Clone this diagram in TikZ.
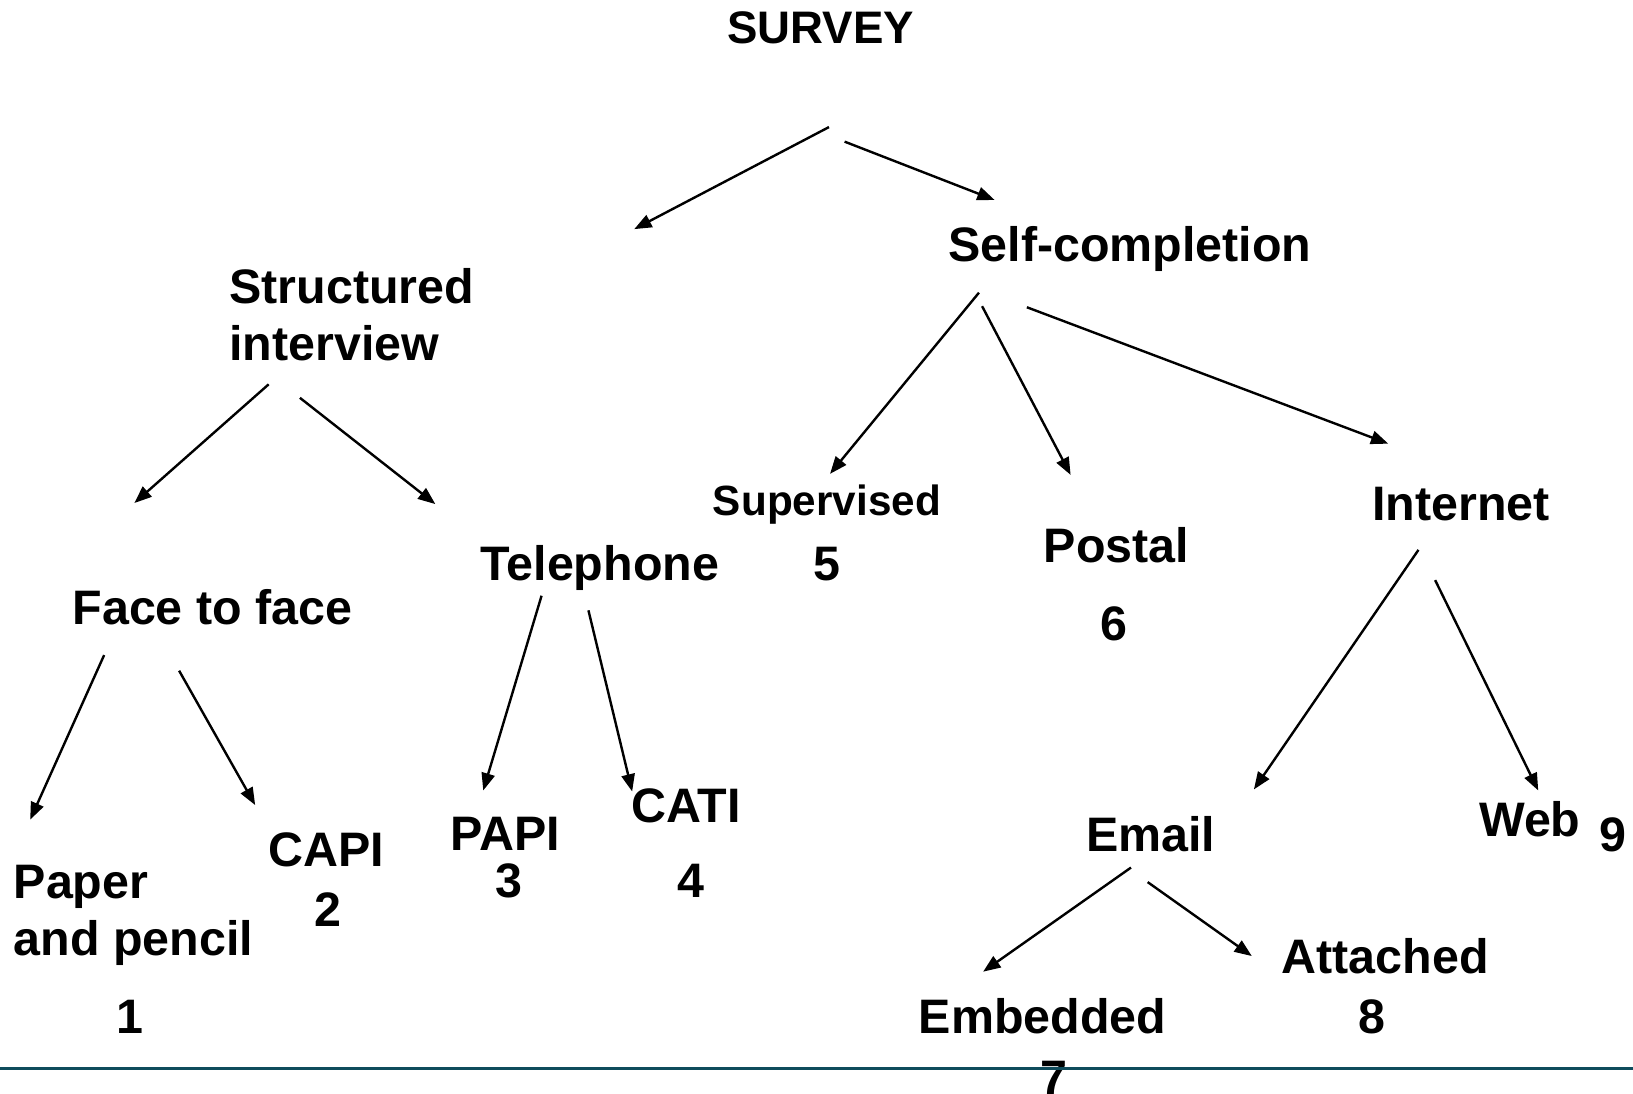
\documentclass[tikz,border=0pt]{standalone}
\usepackage{fontspec}
\setmainfont{Liberation Sans}
\usepackage{tikz}
\usetikzlibrary{arrows.meta}
\definecolor{rulecol}{HTML}{0F4C5C}
\tikzset{
  srvlbl/.style = {font=\bfseries\fontsize{36.3}{42.5}\selectfont,
                   inner sep=0pt, anchor=base},
  srvsml/.style = {srvlbl, font=\bfseries\fontsize{31.7}{38}\selectfont},
  srvtop/.style = {srvlbl, font=\bfseries\fontsize{34.2}{40}\selectfont},
  srvarr/.style = {draw=black, line width=1.8pt,
                   -{Triangle[length=13pt, width=10pt]}},
}

\begin{document}
\begin{tikzpicture}[x=0.7811pt, y=-0.7811pt]
  \useasboundingbox (0,0) rectangle (1568,1050);

  % labels
  \node[srvtop] (survey) at (788,42) {SURVEY};
  \node[srvlbl] (selfc) at (1085,251) {Self-completion};
  \node[srvlbl, anchor=base west, align=left] (struct) at (220,346) {Structured\\interview};
  \node[srvlbl] (face) at (204,600) {Face to face};
  \node[srvlbl] (tel) at (576,557) {Telephone};
  \node[srvsml] (superv) at (794,495) {Supervised};
  \node[srvlbl] (n5) at (794,557) {5};
  \node[srvlbl] (postal) at (1072,540) {Postal};
  \node[srvlbl] (n6) at (1070,615) {6};
  \node[srvlbl] (inet) at (1403,500) {Internet};
  \node[srvlbl, anchor=base west, align=left] (paper) at (13,917) {Paper\\and pencil};
  \node[srvlbl] (n1) at (125,992) {1};
  \node[srvlbl] (capi) at (313,832) {CAPI};
  \node[srvlbl] (n2) at (315,890) {2};
  \node[srvlbl] (papi) at (485,817) {PAPI};
  \node[srvlbl] (n3) at (489,862) {3};
  \node[srvlbl] (cati) at (659,790) {CATI};
  \node[srvlbl] (n4) at (663,862) {4};
  \node[srvlbl] (email) at (1105,818) {Email};
  \node[srvlbl] (web) at (1469,803) {Web};
  \node[srvlbl] (n9) at (1549,818) {9};
  \node[srvlbl] (embed) at (1001,992) {Embedded};
  \node[srvlbl] (n7) at (1012,1051) {7};
  \node[srvlbl] (attach) at (1330,935) {Attached};
  \node[srvlbl] (n8) at (1317,992) {8};

  % arrow ends
  \coordinate (sv-l) at (796,122);  \coordinate (struct-in) at (609,220);
  \coordinate (sv-r) at (811,136);  \coordinate (selfc-in) at (955,192);
  \coordinate (st-l) at (258,369);  \coordinate (face-in) at (129,483);
  \coordinate (st-r) at (288,382);  \coordinate (tel-in) at (418,484);
  \coordinate (sc-l) at (940,281);  \coordinate (superv-in) at (797,455);
  \coordinate (sc-m) at (943,294);  \coordinate (postal-in) at (1028,456);
  \coordinate (sc-r) at (986,295);  \coordinate (inet-in) at (1333,426);
  \coordinate (fa-l) at (100,629);  \coordinate (paper-in) at (29,787);
  \coordinate (fa-r) at (172,644);  \coordinate (capi-in) at (245,773);
  \coordinate (te-l) at (520,572);  \coordinate (papi-in) at (464,759);
  \coordinate (te-r) at (565,586);  \coordinate (cati-in) at (607,760);
  \coordinate (in-l) at (1362,528); \coordinate (email-in) at (1204,758);
  \coordinate (in-r) at (1378,557); \coordinate (web-in) at (1477,759);
  \coordinate (em-l) at (1086,833); \coordinate (embed-in) at (944,933);
  \coordinate (em-r) at (1102,847); \coordinate (attach-in) at (1202,918);

  \draw[srvarr] (sv-l) -- (struct-in);
  \draw[srvarr] (sv-r) -- (selfc-in);
  \draw[srvarr] (st-l) -- (face-in);
  \draw[srvarr] (st-r) -- (tel-in);
  \draw[srvarr] (sc-l) -- (superv-in);
  \draw[srvarr] (sc-m) -- (postal-in);
  \draw[srvarr] (sc-r) -- (inet-in);
  \draw[srvarr] (fa-l) -- (paper-in);
  \draw[srvarr] (fa-r) -- (capi-in);
  \draw[srvarr] (te-l) -- (papi-in);
  \draw[srvarr] (te-r) -- (cati-in);
  \draw[srvarr] (in-l) -- (email-in);
  \draw[srvarr] (in-r) -- (web-in);
  \draw[srvarr] (em-l) -- (embed-in);
  \draw[srvarr] (em-r) -- (attach-in);

  % bottom rule
  \coordinate (rule-w) at (0,1026);
  \coordinate (rule-e) at (1568,1026);
  \draw[rulecol, line width=2pt] (rule-w) -- (rule-e);
\end{tikzpicture}
\end{document}
